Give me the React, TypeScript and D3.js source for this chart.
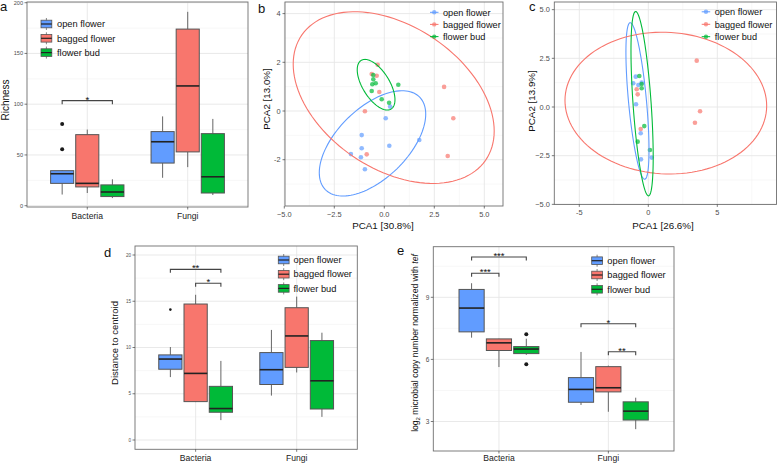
import React from "react";
import * as d3 from "d3";

const FONT = "'Liberation Sans', Arial, Helvetica, sans-serif";

// ---------- shared categories ----------
const GROUPS = ["open flower", "bagged flower", "flower bud"];
const KINGDOMS = ["Bacteria", "Fungi"];
const GROUP_COLORS = ["#619CFF", "#F8766D", "#00BA38"];

// ---------- panel a: richness, [lower whisker, q1, median, q3, upper whisker] ----------
const richnessBacteria = [
  [11, 22, 31.5, 34.5, 35],
  [12.5, 18.5, 22, 70, 75],
  [7.5, 9, 13.5, 20.5, 26],
];
const richnessFungi = [
  [27.5, 42, 63, 73, 88],
  [38, 53, 118, 174, 191],
  [10.5, 12.5, 28.5, 71, 85.5],
];
// [kingdom, group, value]
const richnessOutliers = [
  [0, 0, 55.5],
  [0, 0, 80.5],
];
// [kingdom, group from, group to, height, label]
const richnessSignif: [number, number, number, number, string][] = [[0, 0, 2, 103.5, "*"]];
const richnessTicks = [0, 50, 100, 150, 200];

// ---------- panel b: PCA scores ----------
const pcaBOpen = [
  [0.29, 0.18], [0.07, -0.3], [-1.13, -0.99], [-1.13, -1.53], [-1.67, -1.77],
  [-1.17, -1.9], [-0.97, -2.39], [0.25, -1.43], [1.75, -1.19],
];
const pcaBBagged = [
  [-0.33, 1.9], [-0.63, 1.52], [-0.38, 1.45], [-0.25, 0.78], [-0.97, -0.01],
  [-0.88, -1.78], [2.99, 0.99], [3.45, -0.3], [3.17, -1.85],
];
const pcaBBud = [
  [-0.55, 1.48], [-0.55, 1.3], [-0.43, 1.14], [-0.6, 1.1], [-0.63, 0.82],
  [-0.13, 0.48], [0.24, 0.34], [0.7, 1.08],
];
// confidence ellipses: [cx, cy, var x, var y, cov xy] (scaled)
const pcaBEllipses = [
  [-0.59, -1.33, 7.08, 4.67, 3.2],
  [0.47, 0.55, 25.25, 12.43, -6.9],
  [-0.41, 1.08, 0.89, 1.08, -0.58],
];
const pcaBXTicks = [-5, -2.5, 0, 2.5, 5];
const pcaBYTicks = [-2, 0, 2, 4];

// ---------- panel c: PCA scores ----------
const pcaCOpen = [
  [-0.91, 1.56], [-1.09, 1.22], [-0.72, 1.13], [-0.48, 1.25], [-0.89, 0.14],
  [-0.55, -1.35], [-0.53, -2.69], [0.25, -2.6],
];
const pcaCBagged = [
  [-0.84, 0.91], [-0.77, 0.65], [-0.55, -1.13], [3.51, 2.38], [3.75, -0.22], [3.38, -0.81],
];
const pcaCBud = [
  [-0.65, 1.59], [-0.48, 1.18], [-0.48, 0.96], [-0.29, -0.98], [-0.77, -1.78], [0.12, -2.21],
];
const pcaCEllipses = [
  [-0.785, 0.31, 0.7, 16.16, -2.1],
  [1.27, 0.2, 53.4, 13.25, -1.0],
  [-0.45, 0.17, 0.648, 22.4, -2.2],
];
const pcaCXTicks = [-5, 0, 5];
const pcaCYTicks = [-5, -2.5, 0, 2.5, 5];

// ---------- panel d: distance to centroid ----------
const distanceBacteria = [
  [6.8, 7.65, 8.75, 9.2, 10.05],
  [4.1, 4.15, 7.2, 14.7, 15.7],
  [2.15, 3.0, 3.4, 5.8, 8.55],
];
const distanceFungi = [
  [4.8, 6.0, 7.6, 9.45, 11.9],
  [7.3, 7.85, 11.25, 14.3, 15.5],
  [2.5, 3.35, 6.4, 10.75, 11.6],
];
const distanceOutliers = [[0, 0, 14.1]];
const distanceSignif: [number, number, number, number, string][] = [
  [0, 0, 2, 18.45, "**"],
  [0, 1, 2, 16.94, "*"],
];
const distanceTicks = [0, 5, 10, 15, 20];

// ---------- panel e: log2 copy number ----------
const copyBacteria = [
  [7.05, 7.33, 8.48, 9.38, 9.68],
  [5.63, 6.43, 6.8, 6.99, 7.0],
  [6.22, 6.28, 6.5, 6.62, 7.0],
];
const copyFungi = [
  [3.8, 3.93, 4.55, 5.12, 6.36],
  [3.47, 4.43, 4.63, 5.65, 5.7],
  [2.63, 3.07, 3.5, 3.95, 4.15],
];
const copyOutliers = [
  [0, 2, 7.22],
  [0, 2, 5.77],
];
const copySignif: [number, number, number, number, string][] = [
  [0, 0, 2, 10.95, "***"],
  [0, 0, 1, 10.16, "***"],
  [1, 0, 2, 7.72, "*"],
  [1, 1, 2, 6.37, "**"],
];
const copyTicks = [3, 6, 9];

// ---------- drawing helpers ----------
const GRID_MAJOR = "#e6e6e6";
const GRID_MINOR = "#f2f2f2";
const BORDER = "#6f6f6f";
const TICK_TEXT = "#4d4d4d";

function midpoints(ticks: number[], lo: number, hi: number) {
  const step = ticks[1] - ticks[0];
  const out: number[] = [];
  for (let v = ticks[0] - step / 2; v <= ticks[ticks.length - 1] + step / 2 + 1e-9; v += step) {
    if (!ticks.includes(v)) out.push(v);
  }
  return out.filter((v) => v > lo && v < hi);
}

function BoxLegend({ x, rows, textX, font }: { x: number; rows: number[]; textX: number; font: number }) {
  return (
    <g>
      {GROUPS.map((g, i) => (
        <g key={g}>
          <line x1={x + 5.4} x2={x + 5.4} y1={rows[i] - 6} y2={rows[i] + 6} stroke="#666" strokeWidth={0.8} />
          <rect x={x} y={rows[i] - 3.8} width={10.8} height={7.6} fill={GROUP_COLORS[i]} stroke="#555" strokeWidth={0.8} />
          <line x1={x} x2={x + 10.8} y1={rows[i]} y2={rows[i]} stroke="#222" strokeWidth={1.2} />
          <text x={textX} y={rows[i]} dy="0.35em" fontSize={font} fontFamily={FONT} fill="#111">
            {g}
          </text>
        </g>
      ))}
    </g>
  );
}

type BoxProps = {
  x0: number; x1: number; top: number; bottom: number;
  yDomain: [number, number]; yRange: [number, number];
  ticks: number[]; tickFont: number;
  stats: number[][][]; outliers: number[][]; outlierR: number;
  signif: [number, number, number, number, string][];
  legendX: number; legendRows: number[]; legendTextX: number;
  catBaseline: number; catFont: number;
  title: React.ReactNode; titleX: number; titleY: number; titleFont: number;
  letter: string; letterX: number; letterY: number;
};

function BoxPanel(p: BoxProps) {
  const x = d3.scaleLinear().domain([0.4, 2.6]).range([p.x0, p.x1]);
  const y = d3.scaleLinear().domain(p.yDomain).range(p.yRange);
  const unit = x(1) - x(0);
  const dodge = 0.25;
  const bw = dodge * 0.92 * unit;
  const cx = (k: number, g: number) => x(k + 1 + (g - 1) * dodge);
  const yLo = y.invert(p.bottom);
  const yHi = y.invert(p.top);
  const minor = midpoints(p.ticks, yLo, yHi);
  return (
    <g>
      {minor.map((v) => (
        <line key={"m" + v} x1={p.x0} x2={p.x1} y1={y(v)} y2={y(v)} stroke={GRID_MINOR} strokeWidth={0.6} />
      ))}
      {p.ticks.map((v) => (
        <line key={"g" + v} x1={p.x0} x2={p.x1} y1={y(v)} y2={y(v)} stroke={GRID_MAJOR} strokeWidth={0.9} />
      ))}
      {KINGDOMS.map((k, i) => (
        <line key={k} x1={x(i + 1)} x2={x(i + 1)} y1={p.top} y2={p.bottom} stroke={GRID_MAJOR} strokeWidth={0.9} />
      ))}
      {p.stats.map((kStats, k) =>
        kStats.map((s, g) => {
          const c = cx(k, g);
          return (
            <g key={k + "-" + g}>
              <line x1={c} x2={c} y1={y(s[0])} y2={y(s[1])} stroke="#666" strokeWidth={1} />
              <line x1={c} x2={c} y1={y(s[3])} y2={y(s[4])} stroke="#666" strokeWidth={1} />
              <rect x={c - bw / 2} y={y(s[3])} width={bw} height={y(s[1]) - y(s[3])} fill={GROUP_COLORS[g]} stroke="#555" strokeWidth={1} />
              <line x1={c - bw / 2} x2={c + bw / 2} y1={y(s[2])} y2={y(s[2])} stroke="#222" strokeWidth={1.6} />
            </g>
          );
        })
      )}
      {p.outliers.map(([k, g, v], i) => (
        <circle key={"o" + i} cx={cx(k, g)} cy={y(v)} r={p.outlierR} fill="#1a1a1a" />
      ))}
      {p.signif.map(([k, g1, g2, v, lab], i) => {
        const xa = cx(k, g1);
        const xb = cx(k, g2);
        const yy = y(v);
        return (
          <g key={"s" + i}>
            <path d={`M${xa},${yy + 3.5}V${yy}H${xb}V${yy + 3.5}`} fill="none" stroke="#444" strokeWidth={1.1} />
            <text x={(xa + xb) / 2} y={yy + 2} textAnchor="middle" fontSize={9.5} fontFamily={FONT} fill="#111">
              {lab}
            </text>
          </g>
        );
      })}
      <rect x={p.x0} y={p.top} width={p.x1 - p.x0} height={p.bottom - p.top} fill="none" stroke={BORDER} strokeWidth={0.9} />
      {p.ticks.map((v) => (
        <g key={"t" + v}>
          <line x1={p.x0 - 2.5} x2={p.x0} y1={y(v)} y2={y(v)} stroke="#444" strokeWidth={0.7} />
          <text x={p.x0 - 4} y={y(v)} dy="0.35em" textAnchor="end" fontSize={p.tickFont} fontFamily={FONT} fill={TICK_TEXT}>
            {v}
          </text>
        </g>
      ))}
      {KINGDOMS.map((k, i) => (
        <g key={"c" + k}>
          <line x1={x(i + 1)} x2={x(i + 1)} y1={p.bottom} y2={p.bottom + 2.5} stroke="#444" strokeWidth={0.7} />
          <text x={x(i + 1)} y={p.catBaseline} textAnchor="middle" fontSize={p.catFont} fontFamily={FONT} fill="#222">
            {k}
          </text>
        </g>
      ))}
      <text transform={`translate(${p.titleX},${p.titleY}) rotate(-90)`} textAnchor="middle" fontSize={p.titleFont} fontFamily={FONT} fill="#111">
        {p.title}
      </text>
      <BoxLegend x={p.legendX} rows={p.legendRows} textX={p.legendTextX} font={9.3} />
      <text x={p.letterX} y={p.letterY} fontSize={13} fontFamily={FONT} fill="#111">
        {p.letter}
      </text>
    </g>
  );
}

function ellipsePath(e: number[], xs: d3.ScaleLinear<number, number>, ys: d3.ScaleLinear<number, number>) {
  const [cx, cy, sxx, syy, sxy] = e;
  const a = Math.sqrt(sxx);
  const b = sxy / a;
  const c = Math.sqrt(syy - b * b);
  const pts = d3.range(0, 121).map((i) => {
    const t = (i / 120) * 2 * Math.PI;
    const u = Math.cos(t);
    const v = Math.sin(t);
    return [xs(cx + a * u), ys(cy + b * u + c * v)] as [number, number];
  });
  return (d3.line()(pts) || "") + "Z";
}

type PcaProps = {
  id: string;
  x0: number; x1: number; top: number; bottom: number;
  xDomain: [number, number]; xRange: [number, number];
  yDomain: [number, number]; yRange: [number, number];
  xTicks: number[]; yTicks: number[];
  xFmt: (v: number) => string; yFmt: (v: number) => string;
  points: number[][][]; ellipses: number[][];
  xTitle: string; xTitleX: number; yTitle: string; yTitleX: number; yTitleY: number;
  legendLineX: number; legendRows: number[];
  letter: string; letterX: number; letterY: number;
};

function PcaPanel(p: PcaProps) {
  const x = d3.scaleLinear().domain(p.xDomain).range(p.xRange);
  const y = d3.scaleLinear().domain(p.yDomain).range(p.yRange);
  const xMinor = midpoints(p.xTicks, x.invert(p.x0), x.invert(p.x1));
  const yMinor = midpoints(p.yTicks, y.invert(p.bottom), y.invert(p.top));
  return (
    <g>
      <defs>
        <clipPath id={p.id}>
          <rect x={p.x0} y={p.top} width={p.x1 - p.x0} height={p.bottom - p.top} />
        </clipPath>
      </defs>
      {xMinor.map((v) => (
        <line key={"xm" + v} x1={x(v)} x2={x(v)} y1={p.top} y2={p.bottom} stroke={GRID_MINOR} strokeWidth={0.6} />
      ))}
      {yMinor.map((v) => (
        <line key={"ym" + v} x1={p.x0} x2={p.x1} y1={y(v)} y2={y(v)} stroke={GRID_MINOR} strokeWidth={0.6} />
      ))}
      {p.xTicks.map((v) => (
        <line key={"xg" + v} x1={x(v)} x2={x(v)} y1={p.top} y2={p.bottom} stroke={GRID_MAJOR} strokeWidth={0.9} />
      ))}
      {p.yTicks.map((v) => (
        <line key={"yg" + v} x1={p.x0} x2={p.x1} y1={y(v)} y2={y(v)} stroke={GRID_MAJOR} strokeWidth={0.9} />
      ))}
      <g clipPath={`url(#${p.id})`}>
        {p.points.map((pts, g) =>
          pts.map((pt, i) => (
            <circle key={g + "-" + i} cx={x(pt[0])} cy={y(pt[1])} r={2.3} fill={GROUP_COLORS[g]} fillOpacity={0.7} />
          ))
        )}
        {p.ellipses.map((e, g) => (
          <path key={"e" + g} d={ellipsePath(e, x, y)} fill="none" stroke={GROUP_COLORS[g]} strokeWidth={1.1} />
        ))}
      </g>
      <rect x={p.x0} y={p.top} width={p.x1 - p.x0} height={p.bottom - p.top} fill="none" stroke={BORDER} strokeWidth={0.9} />
      {p.xTicks.map((v) => (
        <g key={"xt" + v}>
          <line x1={x(v)} x2={x(v)} y1={p.bottom} y2={p.bottom + 2.5} stroke="#444" strokeWidth={0.7} />
          <text x={x(v)} y={p.bottom + 11} textAnchor="middle" fontSize={7.4} fontFamily={FONT} fill={TICK_TEXT}>
            {p.xFmt(v)}
          </text>
        </g>
      ))}
      {p.yTicks.map((v) => (
        <g key={"yt" + v}>
          <line x1={p.x0 - 2.5} x2={p.x0} y1={y(v)} y2={y(v)} stroke="#444" strokeWidth={0.7} />
          <text x={p.x0 - 4.5} y={y(v)} dy="0.35em" textAnchor="end" fontSize={7.4} fontFamily={FONT} fill={TICK_TEXT}>
            {p.yFmt(v)}
          </text>
        </g>
      ))}
      <text x={p.xTitleX} y={229} textAnchor="middle" fontSize={9.8} fontFamily={FONT} fill="#111">
        {p.xTitle}
      </text>
      <text transform={`translate(${p.yTitleX},${p.yTitleY}) rotate(-90)`} textAnchor="middle" fontSize={9.8} fontFamily={FONT} fill="#111">
        {p.yTitle}
      </text>
      {GROUPS.map((g, i) => (
        <g key={"l" + g}>
          <line x1={p.legendLineX} x2={p.legendLineX + 8.5} y1={p.legendRows[i]} y2={p.legendRows[i]} stroke={GROUP_COLORS[i]} strokeWidth={1} />
          <circle cx={p.legendLineX + 4.25} cy={p.legendRows[i]} r={2.2} fill={GROUP_COLORS[i]} fillOpacity={0.7} />
          <text x={p.legendLineX + 13} y={p.legendRows[i]} dy="0.35em" fontSize={9.2} fontFamily={FONT} fill="#111">
            {g}
          </text>
        </g>
      ))}
      <text x={p.letterX} y={p.letterY} fontSize={13} fontFamily={FONT} fill="#111">
        {p.letter}
      </text>
    </g>
  );
}

export default function App() {
  const fmt1 = d3.format(".1f");
  const fmt0 = (v: number) => String(v);
  return (
    <svg width={777} height={463} style={{ position: "absolute", left: 0, top: 0, background: "#fff" }}>
      <rect width={777} height={463} fill="#fff" />
      <BoxPanel
        x0={27} x1={248} top={2} bottom={207}
        yDomain={[0, 200]} yRange={[205.7, 2.7]}
        ticks={richnessTicks} tickFont={5.6}
        stats={[richnessBacteria, richnessFungi]} outliers={richnessOutliers} outlierR={2}
        signif={richnessSignif}
        legendX={41} legendRows={[24, 38.3, 52.6]} legendTextX={57}
        catBaseline={219} catFont={8.6}
        title="Richness" titleX={8.5} titleY={100} titleFont={10}
        letter="a" letterX={0} letterY={11}
      />
      <PcaPanel
        id="clipB"
        x0={285} x1={503} top={2} bottom={206}
        xDomain={[-5, 5]} xRange={[284.3, 484.3]}
        yDomain={[-2, 4]} yRange={[159.7, 13.6]}
        xTicks={pcaBXTicks} yTicks={pcaBYTicks}
        xFmt={fmt1} yFmt={fmt0}
        points={[pcaBOpen, pcaBBagged, pcaBBud]} ellipses={pcaBEllipses}
        xTitle="PCA1 [30.8%]" xTitleX={383}
        yTitle="PCA2 [13.0%]" yTitleX={270} yTitleY={99}
        legendLineX={430} legendRows={[12.3, 24.4, 36.6]}
        letter="b" letterX={258} letterY={13}
      />
      <PcaPanel
        id="clipC"
        x0={554.3} x1={776.5} top={2} bottom={204.4}
        xDomain={[-5, 5]} xRange={[579.3, 717.3]}
        yDomain={[-5, 5]} yRange={[204.35, 9.65]}
        xTicks={pcaCXTicks} yTicks={pcaCYTicks}
        xFmt={fmt0} yFmt={fmt1}
        points={[pcaCOpen, pcaCBagged, pcaCBud]} ellipses={pcaCEllipses}
        xTitle="PCA1 [26.6%]" xTitleX={663}
        yTitle="PCA2 [13.9%]" yTitleX={535} yTitleY={101}
        legendLineX={701.7} legendRows={[11.8, 24.3, 36.7]}
        letter="c" letterX={529} letterY={11}
      />
      <BoxPanel
        x0={135} x1={357.3} top={246} bottom={449.3}
        yDomain={[0, 20]} yRange={[440, 255]}
        ticks={distanceTicks} tickFont={4.6}
        stats={[distanceBacteria, distanceFungi]} outliers={distanceOutliers} outlierR={1.3}
        signif={distanceSignif}
        legendX={278.3} legendRows={[260, 274.2, 288.4]} legendTextX={293.5}
        catBaseline={461} catFont={8.6}
        title="Distance to centroid" titleX={118} titleY={343} titleFont={9.5}
        letter="d" letterX={104} letterY={257}
      />
      <BoxPanel
        x0={433.3} x1={674} top={246.7} bottom={451}
        yDomain={[3, 9]} yRange={[421.5, 297.3]}
        ticks={copyTicks} tickFont={6.5}
        stats={[copyBacteria, copyFungi]} outliers={copyOutliers} outlierR={2}
        signif={copySignif}
        legendX={591.7} legendRows={[260.7, 275, 289.3]} legendTextX={607.3}
        catBaseline={461} catFont={8.6}
        title={
          <>
            <tspan>log</tspan>
            <tspan fontSize={6} dy={2}>2</tspan>
            <tspan dy={-2}> microbial copy number normalized with </tspan>
            <tspan fontStyle="italic">tef</tspan>
          </>
        }
        titleX={418} titleY={343} titleFont={8.6}
        letter="e" letterX={397} letterY={255}
      />
    </svg>
  );
}
